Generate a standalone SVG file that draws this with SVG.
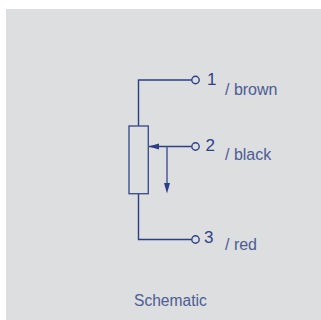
<svg xmlns="http://www.w3.org/2000/svg" width="321" height="320" viewBox="0 0 321 320">
<style>
.w{fill:none;stroke:#2c3f86;stroke-width:1.4}
.p{fill:none;stroke:#3f5190;stroke-width:1.4}
.t{fill:#dcdee0;stroke:#2c3f86;stroke-width:1.4}
text{font-family:"Liberation Sans",Arial,sans-serif;fill:#4d5c93;font-size:16px}
.c{font-size:15.600px}
.n{fill:#2f4187;font-size:17px}
</style>
<rect x="0" y="0" width="321" height="320" fill="#ffffff"/>
<rect x="6" y="9" width="315" height="311" fill="#dcdee0"/>
<g id="connectors">
<path class="w" d="M138.500 126V80H191.500"/>
<path class="w" d="M138.500 194V239.500H191.500"/>
<path class="w" d="M149 146.500H191.500"/>
<path class="p" d="M167 146.500V184"/>
<polygon points="148.500,146.500 159,143.500 159,149.500" fill="#2c3f86"/>
<polygon points="164,183 170,183 167,193.500" fill="#2c3f86"/>
</g>
<g id="resistor"><rect class="p" x="129" y="126" width="19.300" height="67.700"/></g>
<g id="terminal-1"><circle class="t" cx="195.500" cy="80" r="3.700"/><text class="n" x="207" y="84.500">1</text><text x="225" y="95">/ brown</text></g>
<g id="terminal-2"><circle class="t" cx="195.500" cy="146.500" r="3.700"/><text class="n" x="205.500" y="151">2</text><text x="225" y="160">/ black</text></g>
<g id="terminal-3"><circle class="t" cx="195.500" cy="239.500" r="3.700"/><text class="n" x="204" y="243">3</text><text x="225" y="250">/ red</text></g>
<g id="caption"><text class="c" x="134" y="305.500">Schematic</text></g>
</svg>
